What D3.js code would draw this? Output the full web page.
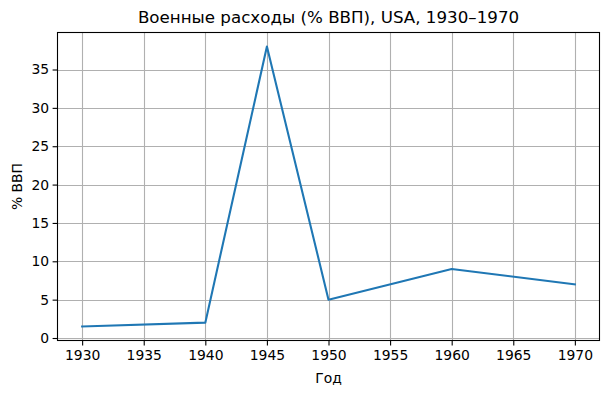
<!DOCTYPE html>
<html>
<head>
<meta charset="utf-8">
<script src="https://cdn.jsdelivr.net/npm/d3@7"></script>
<style>
  body { margin: 0; background: #fff; }
  text { font-family: "DejaVu Sans", sans-serif; fill: #000; }
</style>
</head>
<body>
<div id="container"></div>
<script>
let width = 609;
let height = 393;

// data
let years = [1930, 1940, 1945, 1950, 1960, 1970];
let spending = [1.5, 2, 38, 5, 9, 7];
let xTicks = [1930, 1935, 1940, 1945, 1950, 1955, 1960, 1965, 1970];
let yTicks = [0, 5, 10, 15, 20, 25, 30, 35];

let plotLeft = 57.5, plotRight = 599.5, plotTop = 32.5, plotBottom = 340.5;

let svg = d3.select("#container")
    .append("svg")
    .attr("width", width)
    .attr("height", height);

let x = d3.scaleLinear().domain([1928, 1972]).range([plotLeft, plotRight]);
let yPad = (d3.max(spending) - d3.min(spending)) * 0.05;
let y = d3.scaleLinear()
    .domain([d3.min(spending) - yPad, d3.max(spending) + yPad])
    .range([plotBottom, plotTop]);

// grid
svg.append('g')
    .selectAll('line')
    .data(xTicks)
    .enter()
    .append('line')
    .attr('x1', d => Math.round(x(d)) + 0.5)
    .attr('x2', d => Math.round(x(d)) + 0.5)
    .attr('y1', plotTop)
    .attr('y2', plotBottom)
    .attr('stroke', '#b0b0b0')
    .attr('stroke-width', 1.1);

svg.append('g')
    .selectAll('line')
    .data(yTicks)
    .enter()
    .append('line')
    .attr('x1', plotLeft)
    .attr('x2', plotRight)
    .attr('y1', d => Math.round(y(d)) + 0.5)
    .attr('y2', d => Math.round(y(d)) + 0.5)
    .attr('stroke', '#b0b0b0')
    .attr('stroke-width', 1.1);

// line
let line = d3.line()
    .x((d, i) => x(years[i]))
    .y(d => y(d));

svg.append('path')
    .datum(spending)
    .attr('d', line)
    .attr('fill', 'none')
    .attr('stroke', '#1f77b4')
    .attr('stroke-width', 2.08)
    .attr('stroke-linejoin', 'round')
    .attr('stroke-linecap', 'square');

// axes
let xAxis = d3.axisBottom(x)
    .tickValues(xTicks)
    .tickFormat(d3.format('d'))
    .tickSize(4.9)
    .tickPadding(4.5);

let yAxis = d3.axisLeft(y)
    .tickValues(yTicks)
    .tickSize(4.9)
    .tickPadding(3.5);

let gx = svg.append('g')
    .attr('transform', `translate(0,${plotBottom})`)
    .call(xAxis);

let gy = svg.append('g')
    .attr('transform', `translate(${plotLeft},0)`)
    .call(yAxis);

[gx, gy].forEach(g => {
    g.select('.domain').remove();
    g.selectAll('.tick line').attr('stroke', '#000').attr('stroke-width', 1.1);
    g.selectAll('.tick text')
        .attr('font-family', 'DejaVu Sans')
        .attr('font-size', 13.9)
        .attr('fill', '#000');
});

// spines
svg.append('rect')
    .attr('x', plotLeft)
    .attr('y', plotTop)
    .attr('width', plotRight - plotLeft)
    .attr('height', plotBottom - plotTop)
    .attr('fill', 'none')
    .attr('stroke', '#000')
    .attr('stroke-width', 1.1);

// labels
svg.append('text')
    .attr('x', (plotLeft + plotRight) / 2)
    .attr('y', 23)
    .attr('text-anchor', 'middle')
    .attr('font-size', 16.7)
    .text('Военные расходы (% ВВП), USA, 1930–1970');

svg.append('text')
    .attr('x', (plotLeft + plotRight) / 2)
    .attr('y', 383)
    .attr('text-anchor', 'middle')
    .attr('font-size', 13.9)
    .text('Год');

svg.append('text')
    .attr('transform', `translate(22,${(plotTop + plotBottom) / 2}) rotate(-90)`)
    .attr('text-anchor', 'middle')
    .attr('font-size', 13.9)
    .text('% ВВП');
</script>
</body>
</html>
